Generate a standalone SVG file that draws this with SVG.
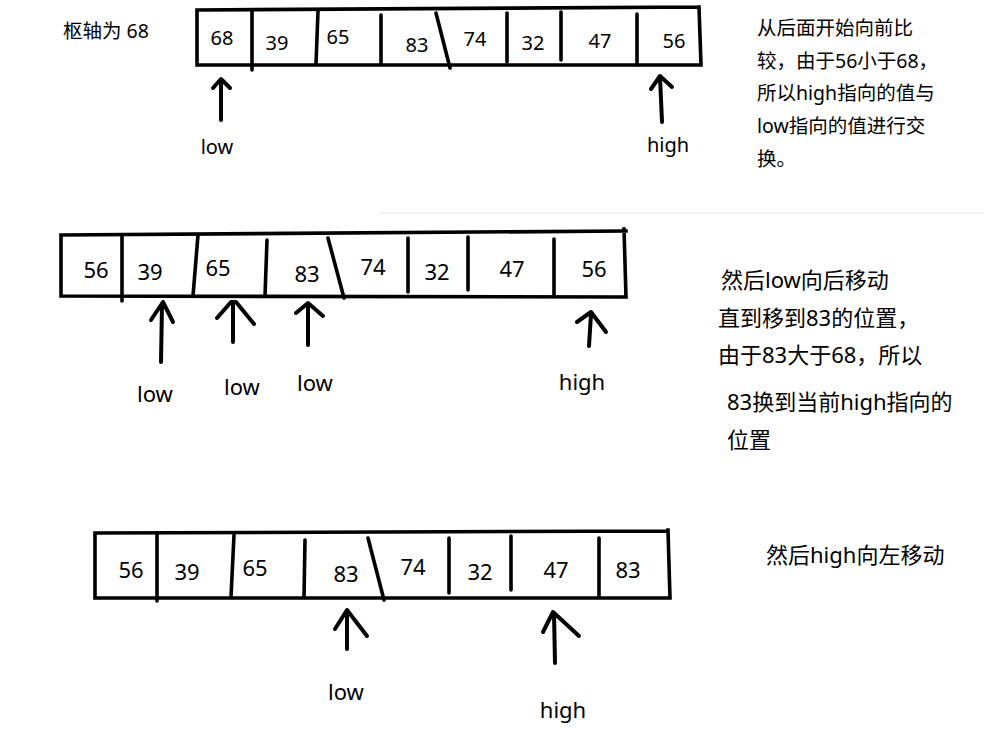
<svg xmlns="http://www.w3.org/2000/svg" width="984" height="737" viewBox="0 0 984 737">
<style>
text{font-family:"Noto Sans","Noto Sans CJK SC",sans-serif;fill:#000}
.d1{font-size:20px;text-anchor:middle}
.d2{font-size:22px;text-anchor:middle}
.n1{font-size:19.5px}
.n2{font-size:22px}
.box{fill:none;stroke:#000;stroke-width:3.6;stroke-linecap:square;stroke-linejoin:miter}
.div{fill:none;stroke:#000;stroke-width:3.6;stroke-linecap:round}
.arr{fill:none;stroke:#000;stroke-width:4;stroke-linecap:round;stroke-linejoin:round}
</style>
<rect width="984" height="737" fill="#fff"/>
<line x1="379" y1="213" x2="984" y2="213" stroke="#f3f3f3" stroke-width="2"/>

<g id="pivot-label"><text class="n1" x="63" y="38" style="font-size:19.5px">枢轴为 68</text></g>

<g id="array1">
<path class="box" d="M197,10 L699,7 M699,7 L701,65 M197,65 L701,65 M197,10 L197,65"/>
<path class="div" d="M252,10 L252,70 M318,11 L316,64 M381,15 L381,64 M436,13 L450,68 M507,13 L507,62 M561,12 L561,60 M637,14 L637,65"/>
<text class="d1" x="222" y="45">68</text>
<text class="d1" x="277" y="50">39</text>
<text class="d1" x="338" y="44">65</text>
<text class="d1" x="417" y="52">83</text>
<text class="d1" x="475" y="46">74</text>
<text class="d1" x="533" y="50">32</text>
<text class="d1" x="600" y="48">47</text>
<text class="d1" x="674" y="48">56</text>
</g>

<g id="array2">
<path class="box" d="M61,235 L626,231 M624,229 L626,297 M61,296 L626,297 M61,235 L61,296"/>
<path class="div" d="M122,235 L122,301 M198,235 L193,296 M267,240 L265,296 M328,238 L344,298 M408,238 L408,292 M468,237 L468,290 M554,239 L554,295"/>
<text class="d2" x="96" y="278">56</text>
<text class="d2" x="150" y="280">39</text>
<text class="d2" x="218" y="276">65</text>
<text class="d2" x="307" y="282">83</text>
<text class="d2" x="373" y="275">74</text>
<text class="d2" x="437" y="280">32</text>
<text class="d2" x="512" y="277">47</text>
<text class="d2" x="594" y="277">56</text>
</g>

<g id="array3">
<path class="box" d="M95,533 L668,531 M668,530 L670,598 M95,598 L670,598 M95,533 L95,598"/>
<path class="div" d="M157,534 L157,601 M234,535 L231,597 M305,540 L304,597 M368,538 L384,600 M449,538 L449,593 M511,536 L511,590 M599,538 L599,596"/>
<text class="d2" x="131" y="578">56</text>
<text class="d2" x="187" y="580">39</text>
<text class="d2" x="255" y="576">65</text>
<text class="d2" x="346" y="582">83</text>
<text class="d2" x="413" y="575">74</text>
<text class="d2" x="480" y="580">32</text>
<text class="d2" x="556" y="578">47</text>
<text class="d2" x="628" y="578">83</text>
</g>

<g id="connectors">
<path class="arr" d="M221,80 L221,120 M213,88 L221,79 L230,88"/>
<path class="arr" d="M660,77 L662,122 M651,89 L660,76 L672,87"/>
<path class="arr" d="M162,304 L161,362 M151,320 L163,302 L173,322"/>
<path class="arr" d="M233,304 L233,342 M217,318 L231,302 L236,302 L254,324"/>
<path class="arr" d="M308,304 L308,345 M296,313 L308,303 L323,316"/>
<path class="arr" d="M591,314 L589,346 M577,322 L591,312 L606,332"/>
<path class="arr" d="M347,612 L347,649 M335,629 L347,610 L367,636"/>
<path class="arr" d="M554,614 L555,663 M543,632 L553,612 L579,636"/>
</g>

<g id="pointer-labels">
<text class="d1" x="217" y="154">low</text>
<text class="d1" x="668" y="152">high</text>
<text class="d2" x="155" y="402">low</text>
<text class="d2" x="242" y="395">low</text>
<text class="d2" x="315" y="391">low</text>
<text class="d2" x="582" y="390">high</text>
<text class="d2" x="346" y="700">low</text>
<text class="d2" x="563" y="718">high</text>
</g>

<g id="note1">
<text class="n1" x="757" y="35">从后面开始向前比</text>
<text class="n1" x="757" y="67.5">较，由于56小于68，</text>
<text class="n1" x="757" y="100">所以high指向的值与</text>
<text class="n1" x="757" y="133">low指向的值进行交</text>
<text class="n1" x="757" y="165.5">换。</text>
</g>

<g id="note2">
<text class="n2" x="721" y="288">然后low向后移动</text>
<text class="n2" x="718" y="326">直到移到83的位置，</text>
<text class="n2" x="718" y="363">由于83大于68，所以</text>
<text class="n2" x="727" y="410">83换到当前high指向的</text>
<text class="n2" x="727" y="448">位置</text>
</g>

<g id="note3">
<text class="n2" x="766" y="563">然后high向左移动</text>
</g>
</svg>
